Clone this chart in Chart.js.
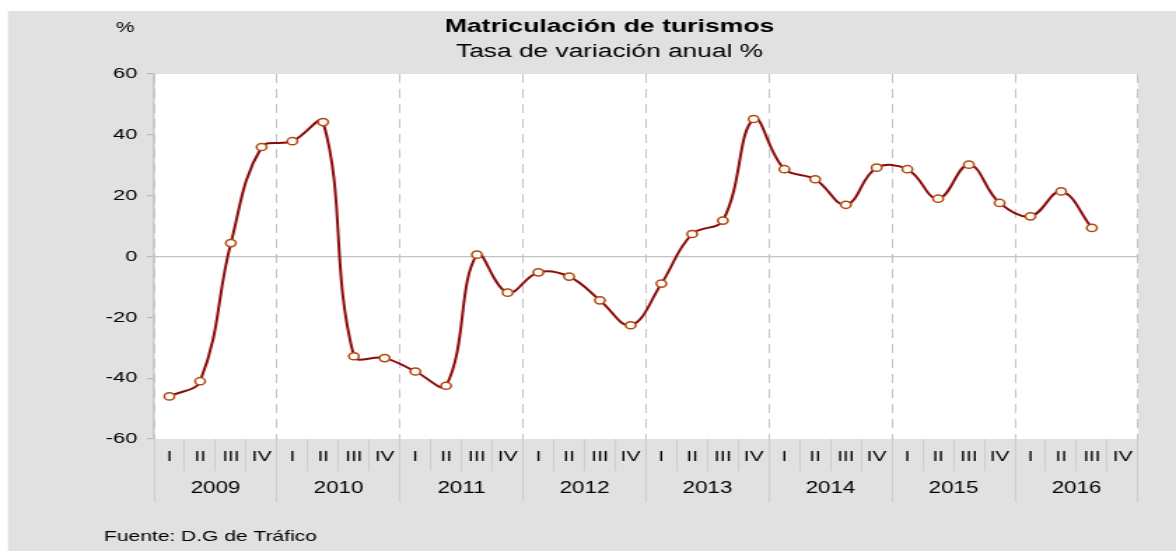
<!DOCTYPE html>
<html>
<head>
<meta charset="utf-8">
<script src="https://cdn.jsdelivr.net/npm/chart.js@4.4.1/dist/chart.umd.min.js"></script>
<style>
  html, body { margin: 0; padding: 0; background: #fff; overflow: hidden; }
  /* the source picture is stretched sideways, so draw narrow and scale in x */
  #wrap { position: absolute; left: 0; top: 0; width: 840px; height: 551px;
          transform: scaleX(1.4); transform-origin: 0 0; }
</style>
</head>
<body>
<div id="wrap"><canvas id="chart"></canvas></div>
<script>
const years = ['2009', '2010', '2011', '2012', '2013', '2014', '2015', '2016'];
const quarters = ['I', 'II', 'III', 'IV'];
const categories = years.flatMap((y) => quarters.map((q) => y + ' ' + q));
const tasa = [
  -46.0, -41.0, 4.4, 36.0,
  37.9, 44.2, -32.8, -33.4,
  -37.8, -42.5, 0.6, -11.9,
  -5.2, -6.6, -14.4, -22.6,
  -8.9, 7.4, 11.8, 45.2,
  28.7, 25.4, 17.0, 29.2,
  28.7, 19.0, 30.2, 17.6,
  13.2, 21.4, 9.4, null,
];
const yTicks = [-60, -40, -20, 0, 20, 40, 60];

const FONT = '"Liberation Sans", Arial, sans-serif';
const LINE_GREY = '#c4c4c4';

// grey panel, white plot area and the loose texts
const frame = {
  id: 'frame',
  beforeDraw(chart) {
    const { ctx, chartArea: a, width, height } = chart;
    ctx.save();
    ctx.fillStyle = '#e1e1e1';
    ctx.fillRect(5.7, 11, width, height);
    ctx.fillStyle = '#ffffff';
    ctx.fillRect(a.left, a.top, a.right - a.left, a.bottom - a.top);
    ctx.restore();
  },
  afterDraw(chart) {
    const ctx = chart.ctx;
    ctx.save();
    ctx.fillStyle = '#000';
    ctx.textBaseline = 'middle';
    ctx.textAlign = 'center';
    ctx.font = '15px ' + FONT;
    ctx.fillText('%', 89.3, 28);
    ctx.font = 'bold 19px ' + FONT;
    ctx.fillText('Matriculación de turismos', 435.4, 27);
    ctx.font = '18.8px ' + FONT;
    ctx.fillText('Tasa de variación anual %', 435.4, 52);
    ctx.textAlign = 'left';
    ctx.font = '15px ' + FONT;
    ctx.fillText('Fuente: D.G de Tráfico', 74.3, 536.5);
    ctx.restore();
  },
};

const ctx = document.getElementById('chart').getContext('2d');
const chart = new Chart(ctx, {
  type: 'line',
  data: {
    labels: categories,
    datasets: [
      {
        label: 'Tasa de variación anual %',
        data: tasa,
        borderColor: '#8b0a0a',
        borderWidth: 2,
        tension: 0.4,
        pointRadius: 3.6,
        pointBorderWidth: 1.5,
        pointBorderColor: '#b4470c',
        pointBackgroundColor: '#ffffff',
      },
    ],
  },
  options: {
    responsive: true,
    maintainAspectRatio: false,
    animation: false,
    events: [],
    layout: { padding: { left: 0, right: 27.14, top: 74, bottom: 0 } },
    plugins: {
      legend: { display: false },
      title: { display: false },
      tooltip: { enabled: false },
    },
    scales: {
      y: {
        min: -60,
        max: 60,
        afterBuildTicks: (scale) => {
          scale.ticks = yTicks.map((v) => ({ value: v }));
        },
        afterFit: (scale) => {
          scale.width = 110;
        },
        border: { display: true, color: '#c8c8c8', width: 1.5 },
        grid: {
          color: (c) => (c.tick && c.tick.value === 0 ? LINE_GREY : 'rgba(0,0,0,0)'),
          tickColor: '#b8b8b8',
          tickLength: 5,
          lineWidth: 1.2,
        },
        ticks: {
          color: '#000',
          padding: 7,
          font: { family: FONT, size: 15.5 },
        },
      },
      x: {
        type: 'category',
        position: 'bottom',
        weight: 0,
        offset: true,
        afterFit: (scale) => {
          scale.height = 32;
        },
        border: { display: false, dash: [9, 6] },
        grid: {
          offset: true,
          drawOnChartArea: true,
          color: (c) => (c.index === undefined || c.index % 4 === 0 ? LINE_GREY : 'rgba(0,0,0,0)'),
          tickBorderDash: [],
          tickColor: '#cdcdcd',
          tickLength: 32,
          lineWidth: 1,
        },
        ticks: {
          color: '#000',
          padding: -23,
          maxRotation: 0,
          autoSkip: false,
          font: { family: FONT, size: 15 },
          callback: (v, i) => quarters[i % 4],
        },
      },
      x2: {
        type: 'category',
        position: 'bottom',
        weight: 1,
        labels: years,
        offset: true,
        afterFit: (scale) => {
          scale.height = 80;
        },
        border: { display: false },
        grid: {
          offset: true,
          drawOnChartArea: false,
          tickColor: '#cdcdcd',
          tickLength: 31,
          lineWidth: 1,
        },
        ticks: {
          color: '#000',
          padding: -23,
          maxRotation: 0,
          autoSkip: false,
          font: { family: FONT, size: 16 },
        },
      },
    },
  },
  plugins: [frame],
});
</script>
</body>
</html>
